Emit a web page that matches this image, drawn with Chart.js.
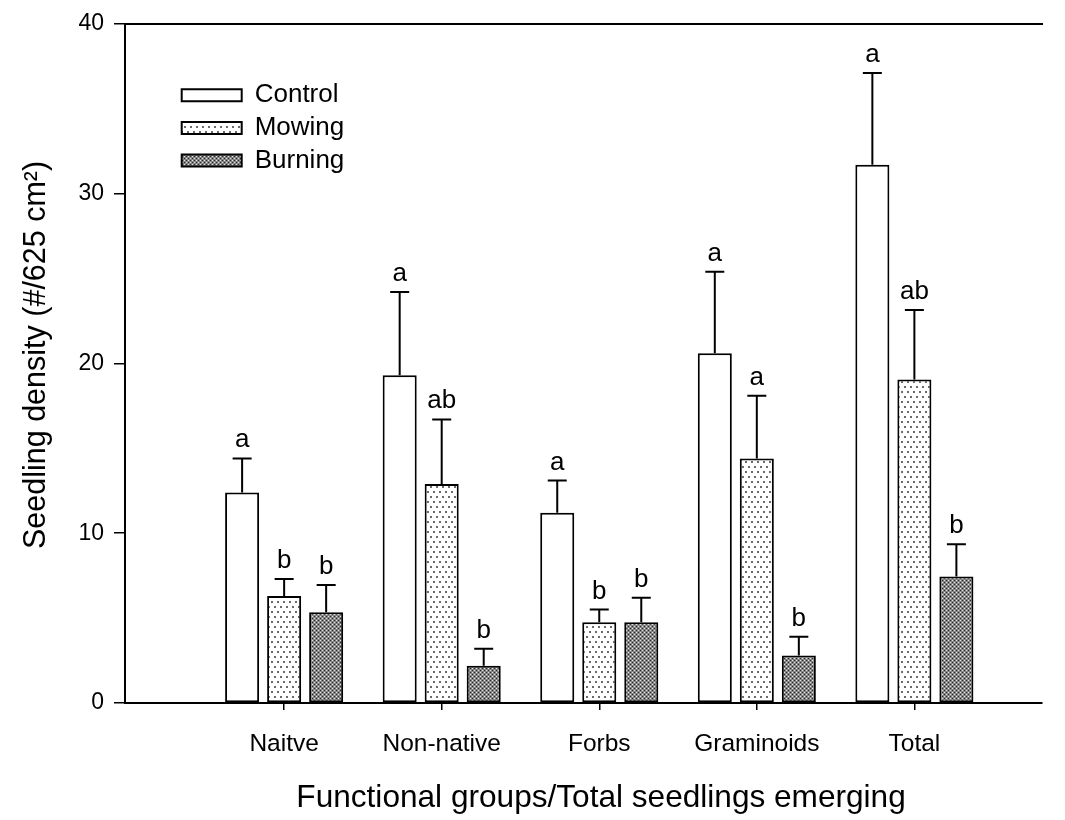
<!DOCTYPE html>
<html>
<head>
<meta charset="utf-8">
<script src="https://cdn.jsdelivr.net/npm/chart.js@4.4.1/dist/chart.umd.min.js"></script>
<style>
  html, body { margin: 0; padding: 0; background: #fff; }
  canvas { display: block; }
</style>
</head>
<body>
<canvas id="chart" width="1065" height="820"></canvas>
<script>
// Seedling density by functional group and treatment (mean + SE)
const categories = ['Naitve', 'Non-native', 'Forbs', 'Graminoids', 'Total'];
const treatments = ['Control', 'Mowing', 'Burning'];

const controlMean = [12.4, 19.3, 11.2, 20.6, 31.7];
const controlSE   = [2.0, 4.9, 1.9, 4.8, 5.4];
const mowingMean  = [6.3, 12.9, 4.75, 14.4, 19.05];
const mowingSE    = [1.0, 3.8, 0.75, 3.7, 4.1];
const burningMean = [5.35, 2.2, 4.75, 2.8, 7.45];
const burningSE   = [1.6, 1.0, 1.45, 1.1, 1.9];

const controlLetters = ['a', 'a', 'a', 'a', 'a'];
const mowingLetters  = ['b', 'ab', 'b', 'a', 'ab'];
const burningLetters = ['b', 'b', 'b', 'b', 'b'];

const yTicks = [0, 10, 20, 30, 40];

const FONT = '"Liberation Sans", Arial, Helvetica, sans-serif';
Chart.defaults.font.family = FONT;
Chart.defaults.color = '#000';

const canvas = document.getElementById('chart');
const ctx = canvas.getContext('2d');

function makePattern(w, h, paint) {
  const c = document.createElement('canvas');
  c.width = w; c.height = h;
  paint(c.getContext('2d'));
  return ctx.createPattern(c, 'repeat');
}

// light stipple: sparse dark dots on white
const mowingFill = makePattern(6, 10, g => {
  g.fillStyle = '#ffffff'; g.fillRect(0, 0, 6, 10);
  g.fillStyle = '#6a6a6a';
  g.fillRect(1, 1, 2, 2);
  g.fillRect(4, 6, 2, 2);
});

// dense dark stipple: mid grey with light and dark specks
const burningFill = makePattern(4, 4, g => {
  g.fillStyle = '#848484'; g.fillRect(0, 0, 4, 4);
  g.fillStyle = '#e6e6e6'; g.fillRect(0, 0, 1, 1); g.fillRect(2, 2, 1, 1);
  g.fillStyle = '#2a2a2a'; g.fillRect(2, 0, 1, 1); g.fillRect(0, 2, 1, 1);
});

const toPoints = arr => arr.map((v, i) => ({ x: i, y: v }));

const xMin = -1.01, xMax = 4.81;

const barStyle = {
  borderColor: '#000',
  borderWidth: 2,
  borderSkipped: false,
  categoryPercentage: 0.8,
  barPercentage: 0.81
};

const datasets = [
  Object.assign({ label: treatments[0], data: toPoints(controlMean), errors: controlSE, letters: controlLetters, backgroundColor: '#ffffff' }, barStyle),
  Object.assign({ label: treatments[1], data: toPoints(mowingMean), errors: mowingSE, letters: mowingLetters, backgroundColor: mowingFill }, barStyle),
  Object.assign({ label: treatments[2], data: toPoints(burningMean), errors: burningSE, letters: burningLetters, backgroundColor: burningFill }, barStyle)
];

// upper error bars with caps, and significance letters above them
const errorBars = {
  id: 'errorBars',
  afterDatasetsDraw(chart) {
    const c = chart.ctx;
    const y = chart.scales.y;
    c.save();
    c.strokeStyle = '#000';
    c.lineWidth = 2;
    c.fillStyle = '#000';
    c.font = '26px ' + FONT;
    c.textAlign = 'center';
    c.textBaseline = 'alphabetic';
    chart.data.datasets.forEach((ds, di) => {
      const meta = chart.getDatasetMeta(di);
      meta.data.forEach((bar, i) => {
        const top = y.getPixelForValue(ds.data[i].y + ds.errors[i]);
        c.beginPath();
        c.moveTo(bar.x, bar.y);
        c.lineTo(bar.x, top);
        c.moveTo(bar.x - 9.5, top);
        c.lineTo(bar.x + 9.5, top);
        c.stroke();
        c.fillText(ds.letters[i], bar.x, top - 11);
      });
    });
    c.restore();
  }
};

// place the legend inside the plot, toward the upper left
const legendPlacement = {
  id: 'legendPlacement',
  afterLayout(chart) {
    const lg = chart.legend;
    if (!lg) return;
    const dx = 50, dy = 75.5;
    lg.left += dx; lg.right += dx;
    lg.top += dy; lg.bottom += dy;
  }
};

new Chart(ctx, {
  type: 'bar',
  data: { datasets },
  plugins: [errorBars, legendPlacement],
  options: {
    responsive: false,
    animation: false,
    devicePixelRatio: 1,
    layout: { padding: { left: 0, top: 0, right: 23, bottom: 0 } },
    plugins: {
      tooltip: { enabled: false },
      legend: {
        position: 'chartArea',
        align: 'start',
        labels: {
          boxWidth: 60,
          boxHeight: 12,
          padding: 6.7,
          color: '#000',
          font: { size: 26, family: FONT }
        }
      }
    },
    scales: {
      x: {
        type: 'linear',
        position: 'bottom',
        min: xMin,
        max: xMax,
        offset: false,
        afterBuildTicks(scale) {
          scale.ticks = categories.map((_, i) => ({ value: i }));
        },
        afterFit(scale) { scale.height = 117; },
        ticks: {
          callback: v => categories[v] ?? '',
          autoSkip: false,
          maxRotation: 0,
          padding: 20,
          color: '#000',
          font: { size: 24.5, family: FONT }
        },
        grid: {
          offset: false,
          drawOnChartArea: false,
          drawTicks: true,
          tickLength: 7,
          color: '#000',
          lineWidth: 1.5
        },
        border: { display: true, color: '#000', width: 2 },
        title: {
          display: true,
          text: '\u00A0\u00A0\u00A0\u00A0Functional groups/Total seedlings emerging',
          color: '#000',
          font: { size: 31.6, family: FONT },
          padding: { top: 0, bottom: 3 }
        }
      },
      x2: {
        type: 'linear',
        position: 'top',
        min: xMin,
        max: xMax,
        afterFit(scale) { scale.height = 20; },
        ticks: { display: false },
        grid: { drawOnChartArea: false, drawTicks: false },
        border: { display: true, color: '#000', width: 2 }
      },
      y: {
        type: 'linear',
        position: 'left',
        min: yTicks[0],
        max: yTicks[yTicks.length - 1],
        afterBuildTicks(scale) {
          scale.ticks = yTicks.map(v => ({ value: v }));
        },
        afterFit(scale) { scale.width = 125; },
        ticks: {
          padding: 10,
          color: '#000',
          font: { size: 23, family: FONT }
        },
        grid: {
          drawOnChartArea: false,
          drawTicks: true,
          tickLength: 11,
          color: '#000',
          lineWidth: 1.5
        },
        border: { display: true, color: '#000', width: 2 },
        title: {
          display: true,
          text: '\u00A0\u00A0Seedling density (#/625 cm\u00B2)',
          color: '#000',
          font: { size: 30.5, family: FONT },
          padding: { top: 18, bottom: 0 }
        }
      }
    }
  }
});
</script>
</body>
</html>
